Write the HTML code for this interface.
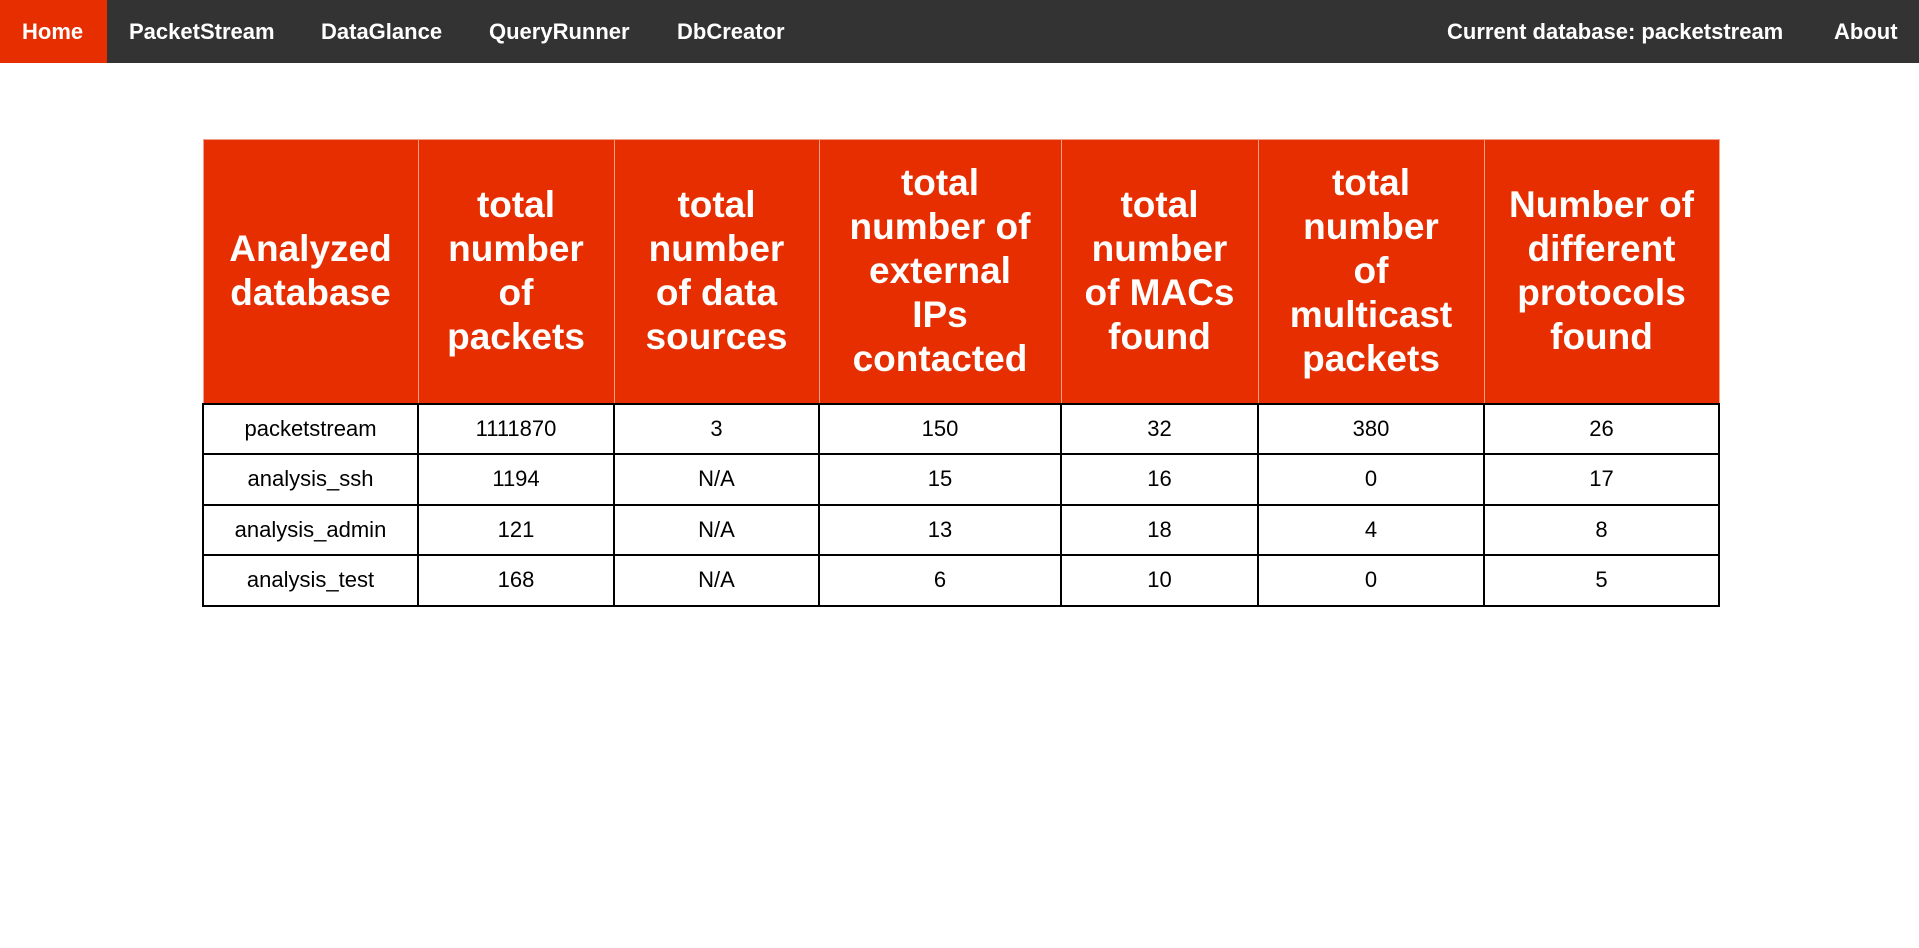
<!DOCTYPE html>
<html><head><meta charset="utf-8">
<style>
*{box-sizing:border-box}
body{margin:0;width:1919px;height:948px;background:#fff;font-family:"Liberation Sans",sans-serif;overflow:hidden}
.nav{height:63px;background:#333;position:relative}
.nav a{position:absolute;top:0;height:63px;line-height:63px;color:#fff;font-weight:bold;font-size:22px;text-decoration:none;padding:0 22px}
.nav a.active{background:#e62e00}
table{position:absolute;left:202px;top:139px;border-collapse:collapse;table-layout:fixed;width:1516px}
th{background:#e62e00;color:#fff;font-size:37px;line-height:44px;font-weight:bold;height:264px;border:1px solid #f3a08a;white-space:nowrap;padding:0}
td{border:2px solid #000;height:50.5px;font-size:22px;text-align:center;padding:0}
</style></head><body>
<div class="nav">
<a class="active" style="left:0;width:107px">Home</a>
<a style="left:107px">PacketStream</a>
<a style="left:299px">DataGlance</a>
<a style="left:467px">QueryRunner</a>
<a style="left:655px">DbCreator</a>
<a style="left:1425px">Current database: packetstream</a>
<a style="left:1812px">About</a>
</div>
<table>
<colgroup><col style="width:215px"><col style="width:196px"><col style="width:205px"><col style="width:242px"><col style="width:197px"><col style="width:226px"><col style="width:235px"></colgroup>
<tr>
<th>Analyzed<br>database</th>
<th>total<br>number<br>of<br>packets</th>
<th>total<br>number<br>of data<br>sources</th>
<th>total<br>number of<br>external<br>IPs<br>contacted</th>
<th>total<br>number<br>of MACs<br>found</th>
<th>total<br>number<br>of<br>multicast<br>packets</th>
<th>Number of<br>different<br>protocols<br>found</th>
</tr>
<tr><td>packetstream</td><td>1111870</td><td>3</td><td>150</td><td>32</td><td>380</td><td>26</td></tr>
<tr><td>analysis_ssh</td><td>1194</td><td>N/A</td><td>15</td><td>16</td><td>0</td><td>17</td></tr>
<tr><td>analysis_admin</td><td>121</td><td>N/A</td><td>13</td><td>18</td><td>4</td><td>8</td></tr>
<tr><td>analysis_test</td><td>168</td><td>N/A</td><td>6</td><td>10</td><td>0</td><td>5</td></tr>
</table>
</body></html>
